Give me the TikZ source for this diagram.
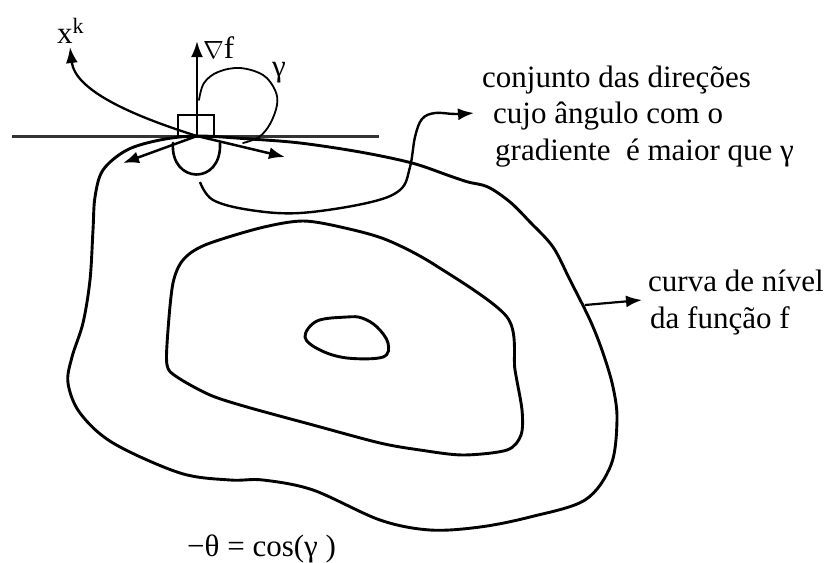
\documentclass[tikz,border=0pt]{standalone}
\usepackage{fontspec}
\setmainfont{Liberation Serif}
\usetikzlibrary{arrows.meta}
\begin{document}
\begin{tikzpicture}[x=1pt,y=-1pt,
  contour/.style={line width=2.9pt, line join=round, line cap=round},
  thinline/.style={line width=1.8pt, line cap=round},
  tipstyle/.style={-{Latex[length=16pt,width=12pt]}},
  arr/.style={line width=2.5pt, tipstyle},
  lbl/.style={anchor=base west, inner sep=0pt, font=\fontsize{31}{37}\selectfont},
]
\useasboundingbox (0,0) rectangle (832,562);

% key points
\coordinate (P) at (197,136);
\coordinate (hl) at (12,136);
\coordinate (hr) at (379,136);
\coordinate (gtip) at (197,41);
\coordinate (la) at (123,163);
\coordinate (ra) at (285,157);
\coordinate (xktip) at (70,47);
\coordinate (ctip) at (474,113);
\coordinate (cvs) at (585,305);
\coordinate (cvtip) at (642,300);

% tangent line
\draw[line width=3pt, black!80] (hl) -- (hr);

% small box at the point
\node[draw, line width=2.2pt, minimum width=36pt, minimum height=21pt, inner sep=0pt] (box) at (196,125.5) {};

% gradient
\draw[arr] (P) -- (gtip);
\node[lbl] (grad) at (203,58) {{\fontsize{23}{23}\selectfont$\nabla$}f};

% x^k arrow
\draw[arr, line width=2.3pt] (P) .. controls (130,115) and (75,90) .. (xktip);
\node[lbl] (xk) at (57,43) {x\raisebox{10pt}{\fontsize{22}{22}\selectfont k}};

% gamma arc
\draw[thinline] plot[smooth, tension=0.6] coordinates {(199,100) (204,83) (218,72) (240,68) (263,75) (275,90) (277,105) (270,124) (259,137) (243,143)};
\node[lbl] (gam) at (272,76) {γ};

% direction arrows
\draw[arr] (P) -- (la);
\draw[arr] (P) -- (ra);

% U-shaped cone mark
\draw[contour, line width=2.6pt] (173,143) .. controls (170,184) and (222,186) .. (220,143);

% connector to text
\draw[line width=2.4pt, tipstyle] plot[smooth, tension=0.6] coordinates {(200,182) (213,200) (250,210) (300,213) (367,203) (400,190) (410,167) (415,137) (422,119) (435,113) (455,114) (ctip)};

\node[lbl] (t1) at (482,87) {conjunto das direções};
\node[lbl] (t2) at (493,123) {cujo ângulo com o};
\node[lbl] (t3) at (495,160) {gradiente\ \ é maior que γ};

% outer level curve
\draw[contour] plot[smooth cycle, tension=0.55] coordinates {
 (197,136) (250,139) (300,143) (360,152) (412,163) (450,176) (468,182) (488,187)
 (510,202) (530,222) (553,247) (570,280) (590,320) (603,353) (613,387) (617,420)
 (611,465) (585,500) (530,517) (480,527) (430,530) (380,520) (313,490) (263,480)
 (230,480) (180,473) (113,443) (80,413) (68,383) (72,357) (83,323) (90,280)
 (93,230) (95,197) (103,170) (127,150) (160,140)};

% inner level curve
\draw[contour] plot[smooth cycle, tension=0.5] coordinates {
 (167,365) (168,330) (173,283) (183,260) (205,245) (260,228) (303,221) (345,228)
 (387,240) (435,265) (507,317) (515,370) (522,410) (521,435) (507,450) (463,455)
 (420,450) (380,443) (313,425) (247,407) (210,395) (177,377)};

% innermost level curve
\draw[contour] plot[smooth cycle, tension=0.6] coordinates {
 (305,337) (317,321) (347,317) (362,318) (377,327) (388,343) (383,357) (347,358) (320,350)};

% level-curve label
\draw[arr, line width=2.2pt] (cvs) -- (cvtip);
\node[lbl] (c1) at (648,291) {curva de nível};
\node[lbl] (c2) at (650,328) {da função f};

% formula
\node[lbl] (form) at (187,556) {−θ = cos(γ )};
\end{tikzpicture}
\end{document}
